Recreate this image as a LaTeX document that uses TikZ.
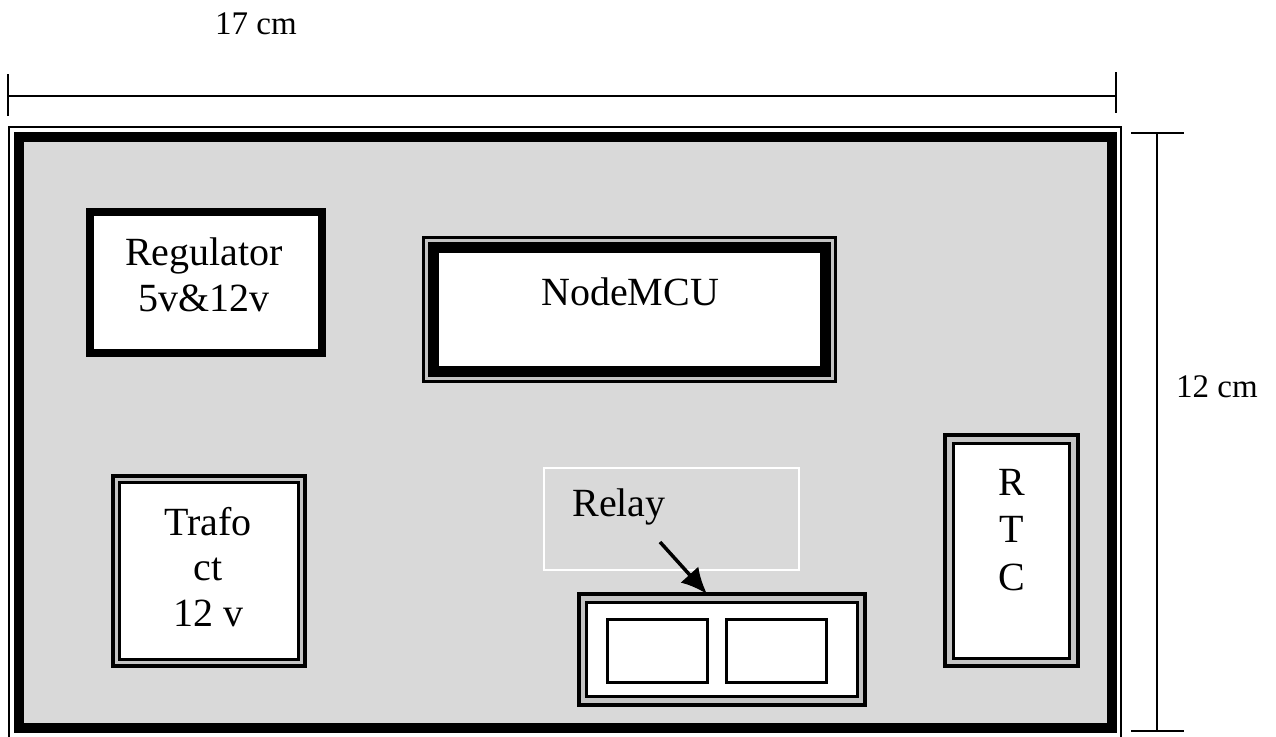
\documentclass[tikz,border=0pt]{standalone}
\usepackage{fontspec}
\setmainfont{Liberation Serif}
\usetikzlibrary{arrows.meta}
\definecolor{board}{HTML}{D9D9D9}
\definecolor{gap}{HTML}{C4C4C4}
\tikzset{
  boxtxt/.style={font=\fontsize{40}{45.5}\selectfont, align=center, inner sep=0pt},
  dimtxt/.style={font=\fontsize{33}{38}\selectfont, inner sep=0pt},
  dimline/.style={line width=2.8pt, black},
  plainbox/.style={draw=black, fill=white, rectangle, inner sep=0pt},
}
\begin{document}
\begin{tikzpicture}[x=1pt,y=-1pt]
\useasboundingbox (0,0) rectangle (1276,736);
% board
\draw[line width=2pt] (9,127) rectangle (1121,740);
\draw[line width=10pt, fill=board] (19,137) rectangle (1112,728);
% dimensions
\coordinate (hl) at (8,96); \coordinate (hr) at (1116,96);
\draw[dimline] (hl) -- (hr);
\draw[dimline] (8,74) -- (8,116);
\draw[dimline] (1116,72) -- (1116,113);
\node[dimtxt] (w) at (256,24) {17 cm};
\coordinate (vt) at (1157,133); \coordinate (vb) at (1157,731);
\draw[dimline] (vt) -- (vb);
\draw[dimline] (1131,133) -- (1184,133);
\draw[dimline] (1131,731) -- (1184,731);
\node[dimtxt] (h) at (1217,387) {12 cm};
% Regulator
\node[plainbox, line width=8pt, minimum width=232pt, minimum height=141pt] (reg) at (206,282.5) {};
\node[boxtxt] (regt) at (204,275) {Regulator\\5v\&12v};
% NodeMCU
\draw[line width=2.5pt, fill=gap] (423.5,237.5) rectangle (835.5,381.5);
\node[plainbox, line width=11pt, minimum width=392pt, minimum height=124pt] (mcu) at (629.5,309.5) {};
\node[boxtxt] (mcut) at (630,292) {NodeMCU};
% Trafo
\draw[line width=4pt, fill=gap] (113,476) rectangle (305,666);
\node[plainbox, line width=3pt, minimum width=179pt, minimum height=177pt] (tr) at (209,571) {};
\node[boxtxt] (trt) at (208,567) {Trafo\\ct\\12 v};
% RTC
\draw[line width=4pt, fill=gap] (945,435) rectangle (1078,666);
\node[plainbox, line width=3pt, minimum width=116pt, minimum height=215pt] (rtc) at (1011.5,550.5) {};
\node[boxtxt, font=\fontsize{40}{47.5}\selectfont] (rtct) at (1012,530) {R\\T\\C};
% Relay label
\node[draw=white, line width=2.5pt, minimum width=255pt, minimum height=102pt, inner sep=0pt] (rlab) at (671.5,519) {};
\node[boxtxt] (rlabt) at (619,507) {Relay};
% Relay box
\draw[line width=4pt, fill=gap] (579,594) rectangle (865,705);
\node[plainbox, line width=3.5pt, minimum width=271pt, minimum height=94pt] (rel) at (722,649.5) {};
\node[plainbox, line width=3pt, minimum width=100pt, minimum height=63pt] (r1) at (657.5,651) {};
\node[plainbox, line width=3pt, minimum width=100pt, minimum height=63pt] (r2) at (776.5,651) {};
% arrow
\coordinate (as) at (660,542);
\coordinate (ae) at (707,594);
\draw[line width=3.5pt, -{Latex[length=26pt,width=24pt]}] (as) -- (ae);
\end{tikzpicture}
\end{document}
